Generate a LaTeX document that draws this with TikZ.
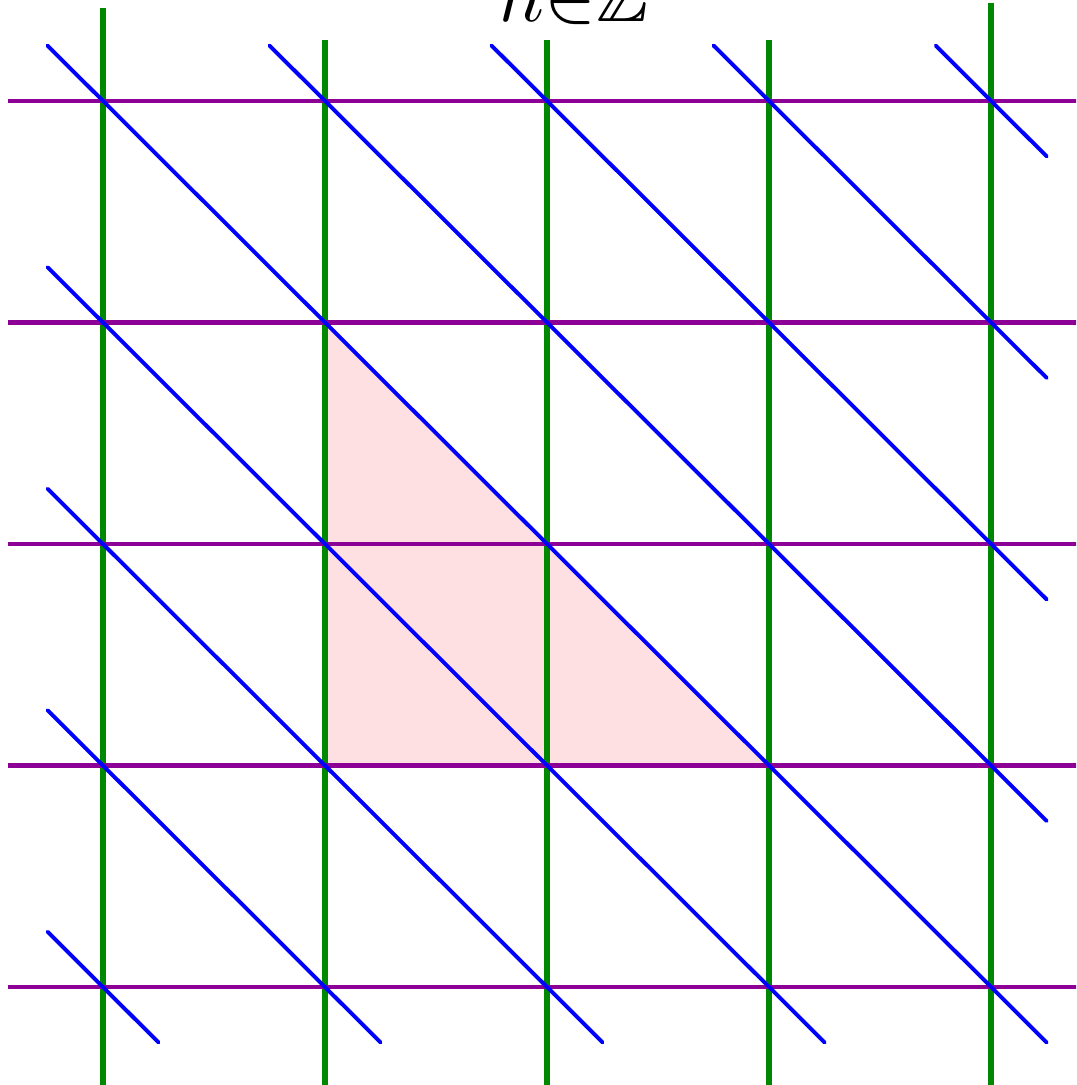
\documentclass[tikz,border=0pt]{standalone}
\usepackage{amssymb}
\definecolor{gridgreen}{RGB}{0,136,0}
\definecolor{gridpurple}{RGB}{140,0,150}
\definecolor{tripink}{RGB}{255,224,226}
\tikzset{
  vline/.style={gridgreen,line width=0.7pt},
  hline/.style={gridpurple,line width=0.6pt},
  dline/.style={blue,line width=0.5pt,line cap=round},
}
\begin{document}
\begin{tikzpicture}[x=1cm,y=0.9977cm]
\clip (-0.464,-0.442) rectangle (4.383,4.456);
\fill[tripink] (1,3) -- (1,1) -- (3,1) -- cycle;
% vertical lines
\draw[vline] (0,-0.45) -- (0,4.42);
\foreach \i in {1,2,3} \draw[vline] (\i,-0.45) -- (\i,4.276);
\draw[vline] (4,-0.45) -- (4,4.442);
% horizontal lines
\foreach \j in {0,...,4} \draw[hline] (-0.428,\j) -- (4.4,\j);
% diagonal lines x+y=c
\foreach \c in {0,...,8}{
  \pgfmathsetmacro{\xa}{max(-0.25,\c-4.25)}
  \pgfmathsetmacro{\xb}{min(4.25,\c+0.25)}
  \draw[dline] (\xa,{\c-\xa}) -- (\xb,{\c-\xb});
}
\node[anchor=base,inner sep=0pt] (lbl) at (2.117,4.357) {$n{\in}\mathbb{Z}$};
\end{tikzpicture}
\end{document}
